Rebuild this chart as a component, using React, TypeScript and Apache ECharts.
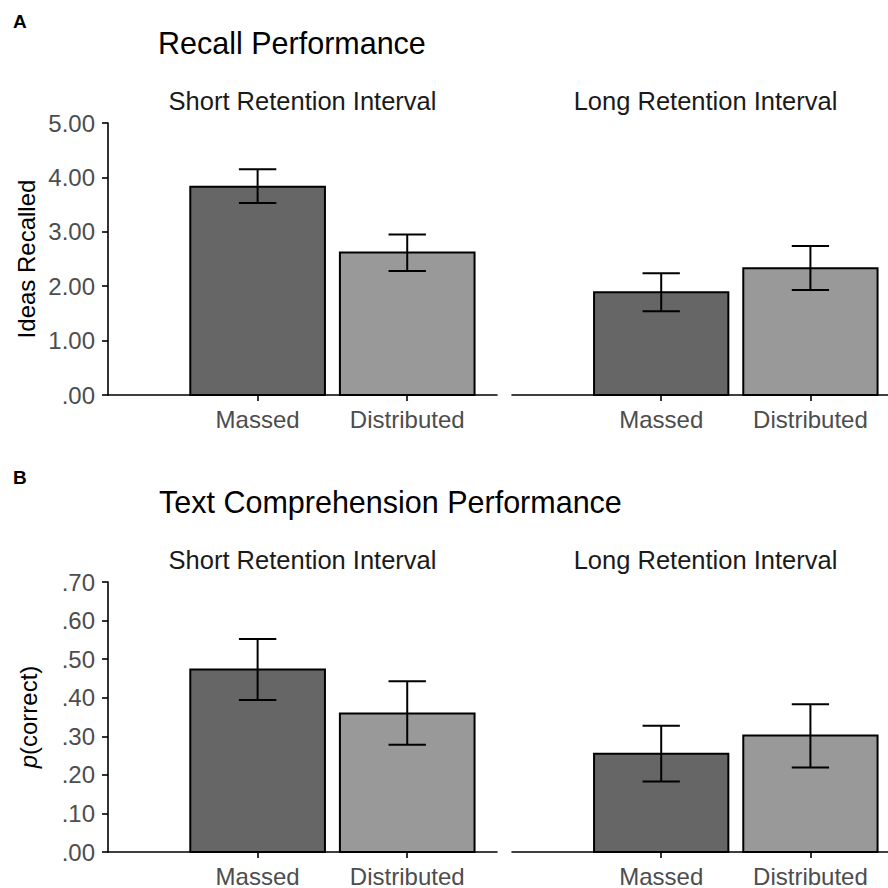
import React, { useEffect, useRef } from "react";
import * as echarts from "echarts";

const categories = ["Massed", "Distributed"];

// Panel A: Recall performance (ideas recalled)
const recallShort = [3.83, 2.62];
const recallShortLo = [3.53, 2.28];
const recallShortHi = [4.15, 2.95];
const recallLong = [1.89, 2.33];
const recallLongLo = [1.54, 1.93];
const recallLongHi = [2.24, 2.74];

// Panel B: Text comprehension performance (p correct)
const compShort = [0.473, 0.359];
const compShortLo = [0.394, 0.278];
const compShortHi = [0.552, 0.443];
const compLong = [0.255, 0.302];
const compLongLo = [0.183, 0.219];
const compLongHi = [0.327, 0.383];

const recallTicks = [0, 1, 2, 3, 4, 5];
const compTicks = [0, 0.1, 0.2, 0.3, 0.4, 0.5, 0.6, 0.7];

const FONT = "'Liberation Sans', Arial, sans-serif";
const BAR_COLORS = ["#666666", "#999999"];
const BAR_W = 0.9;
const CAP_W = 0.25;

function makeData(v: number[], lo: number[], hi: number[]) {
  return categories.map((_, i) => [i + 1, v[i], lo[i], hi[i]]);
}

function renderItem(params: any, api: any) {
  const x = api.value(0);
  const v = api.value(1);
  const lo = api.value(2);
  const hi = api.value(3);
  const base = api.coord([x, 0]);
  const top = api.coord([x, v]);
  const pLo = api.coord([x, lo]);
  const pHi = api.coord([x, hi]);
  const half = api.size([BAR_W, 0])[0] / 2;
  const capHalf = api.size([CAP_W, 0])[0] / 2;
  const lineStyle = { stroke: "#000", lineWidth: 2 };
  return {
    type: "group",
    children: [
      {
        type: "rect",
        shape: { x: top[0] - half, y: top[1], width: half * 2, height: base[1] - top[1] },
        style: { fill: BAR_COLORS[params.dataIndex], stroke: "#000", lineWidth: 2 },
      },
      { type: "line", shape: { x1: pLo[0], y1: pLo[1], x2: pHi[0], y2: pHi[1] }, style: lineStyle },
      { type: "line", shape: { x1: pHi[0] - capHalf, y1: pHi[1], x2: pHi[0] + capHalf, y2: pHi[1] }, style: lineStyle },
      { type: "line", shape: { x1: pLo[0] - capHalf, y1: pLo[1], x2: pLo[0] + capHalf, y2: pLo[1] }, style: lineStyle },
    ],
  };
}

export default function App() {
  const ref = useRef<HTMLDivElement>(null);

  useEffect(() => {
    document.body.style.margin = "0";
    if (!ref.current) return;
    const chart = echarts.init(ref.current, null, { renderer: "svg" });

    const axisLine = { show: true, lineStyle: { color: "#000", width: 1.6 } };
    const axisTick = { show: true, length: 6, inside: false, lineStyle: { color: "#000", width: 1.6 } };
    const labelStyle = { color: "#4d4d4d", fontSize: 24, fontFamily: FONT };

    const xAxis = (gridIndex: number, max: number) => ({
      type: "value",
      gridIndex,
      min: 0,
      max,
      axisLine,
      axisTick: { ...axisTick, customValues: [1, 2] },
      axisLabel: {
        ...labelStyle,
        margin: 12,
        customValues: [1, 2],
        formatter: (v: number) => categories[Math.round(v) - 1] || "",
      },
      splitLine: { show: false },
    });

    const recallFmt = (v: number) => (Math.abs(v) < 1e-9 ? ".00" : v.toFixed(2));
    const compFmt = (v: number) => "." + v.toFixed(2).split(".")[1];

    const yAxis = (gridIndex: number, show: boolean, ticks: number[], fmt: any, name: string, nameGap: number) => ({
      type: "value",
      gridIndex,
      show,
      min: ticks[0],
      max: ticks[ticks.length - 1],
      interval: ticks[1] - ticks[0],
      axisLine,
      axisTick,
      axisLabel: { ...labelStyle, margin: 13, formatter: fmt },
      splitLine: { show: false },
      name,
      nameLocation: "middle",
      nameRotate: 90,
      nameGap,
      nameTextStyle: {
        color: "#000",
        fontSize: 24,
        fontFamily: FONT,
        rich: { i: { fontStyle: "italic", fontSize: 24, fontFamily: FONT, color: "#000" } },
      },
    });

    const series = [
      [0, recallShort, recallShortLo, recallShortHi],
      [1, recallLong, recallLongLo, recallLongHi],
      [2, compShort, compShortLo, compShortHi],
      [3, compLong, compLongLo, compLongHi],
    ].map(([g, v, lo, hi]: any) => ({
      type: "custom",
      xAxisIndex: g,
      yAxisIndex: g,
      renderItem,
      encode: { x: 0, y: 1 },
      data: makeData(v, lo, hi),
    }));

    const titleText = (text: string, x: number, y: number, size: number, bold = false, align = "left", color = "#000") => ({
      type: "text",
      x,
      y,
      style: {
        text,
        fill: color,
        fontSize: size,
        fontWeight: bold ? "bold" : "normal",
        fontFamily: FONT,
        align,
        verticalAlign: "middle",
      },
    });

    chart.setOption({
      animation: false,
      backgroundColor: "#fff",
      grid: [
        { left: 108, top: 123, width: 389, height: 272 },
        { left: 512, top: 123, width: 376, height: 272 },
        { left: 108, top: 582, width: 389, height: 272 },
        { left: 512, top: 582, width: 376, height: 272 },
      ],
      xAxis: [xAxis(0, 2.6), xAxis(1, 2.52), xAxis(2, 2.6), xAxis(3, 2.52)],
      yAxis: [
        yAxis(0, true, recallTicks, recallFmt, "Ideas Recalled", 70),
        yAxis(1, false, recallTicks, recallFmt, "", 0),
        yAxis(2, true, compTicks, compFmt, "{i|p}(correct)", 68),
        yAxis(3, false, compTicks, compFmt, "", 0),
      ],
      series,
      graphic: [
        titleText("A", 13, 21, 19, true),
        titleText("Recall Performance", 158, 43, 30.5),
        titleText("Short Retention Interval", 302.5, 101, 25.5, false, "center", "#1a1a1a"),
        titleText("Long Retention Interval", 705.5, 101, 25.5, false, "center", "#1a1a1a"),
        titleText("B", 13, 477, 19, true),
        titleText("Text Comprehension Performance", 159, 502, 30.5),
        titleText("Short Retention Interval", 302.5, 560, 25.5, false, "center", "#1a1a1a"),
        titleText("Long Retention Interval", 705.5, 560, 25.5, false, "center", "#1a1a1a"),
      ],
    });

    return () => chart.dispose();
  }, []);

  return <div ref={ref} style={{ width: 888, height: 888, position: "absolute", left: 0, top: 0 }} />;
}
